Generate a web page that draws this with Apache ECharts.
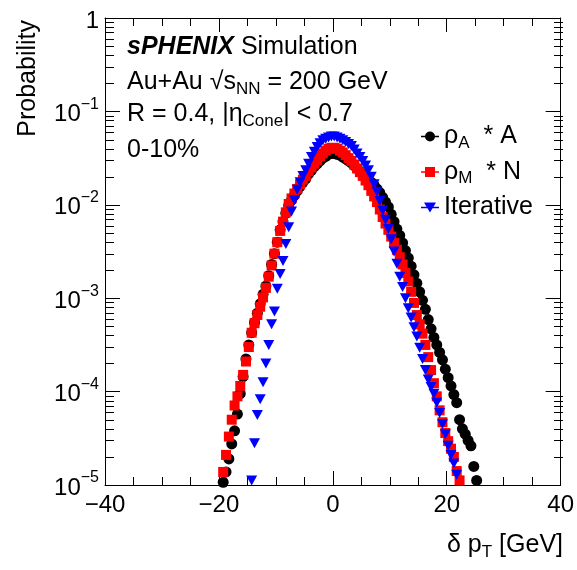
<!DOCTYPE html>
<html>
<head>
<meta charset="utf-8">
<script src="https://cdn.jsdelivr.net/npm/echarts@6/dist/echarts.min.js"></script>
<style>
  html, body { margin: 0; padding: 0; background: #fff; }
  #chart { width: 577px; height: 570px; }
</style>
</head>
<body>
<div id="chart"></div>
<script>
// histogram bins: 0.5 GeV wide, first bin centre of each series
const binWidth = 0.5
const rhoAStart = -19.25
const rhoMStart = -19.25
const iterStart = -14.25

// rho_A * A
const rhoA = [
  1.07e-5, 1.38e-5, 1.9e-5, 2.75e-5, 3.8e-5, 5.75e-5, 9.5e-5, 1.45e-4, 2.24e-4, 3.16e-4,
  4.27e-4, 5.5e-4, 6.9e-4, 8.7e-4, 1.1e-3, 1.35e-3, 1.74e-3, 2.3e-3, 3.0e-3, 3.98e-3,
  5.4e-3, 6.6e-3, 8.1e-3, 9.8e-3, 1.12e-2, 1.26e-2, 1.41e-2, 1.58e-2, 1.74e-2, 1.9e-2,
  2.14e-2, 2.34e-2, 2.57e-2, 2.75e-2, 2.95e-2, 3.16e-2, 3.3e-2, 3.47e-2, 3.55e-2, 3.55e-2,
  3.47e-2, 3.4e-2, 3.24e-2, 3.1e-2, 2.95e-2, 2.82e-2, 2.63e-2, 2.45e-2, 2.29e-2, 2.14e-2,
  2.0e-2, 1.86e-2, 1.74e-2, 1.62e-2, 1.48e-2, 1.35e-2, 1.2e-2, 1.07e-2, 9.5e-3, 7.9e-3,
  6.6e-3, 5.5e-3, 4.7e-3, 3.9e-3, 3.24e-3, 2.7e-3, 2.2e-3, 1.78e-3, 1.45e-3, 1.17e-3,
  9.5e-4, 7.6e-4, 5.9e-4, 4.7e-4, 3.8e-4, 3.16e-4, 2.63e-4, 2.19e-4, 1.74e-4, 1.41e-4,
  1.15e-4, 9.3e-5, 7.6e-5, 5.0e-5, 4.0e-5, 3.5e-5, 3.0e-5, 2.63e-5, 1.58e-5, 1.12e-5
]

// rho_M * N
const rhoM = [
  1.38e-5, 2.1e-5, 3.3e-5, 5.0e-5, 7.1e-5, 8.9e-5, 1.15e-4, 1.51e-4, 2.1e-4, 3.0e-4,
  4.27e-4, 5.4e-4, 6.6e-4, 8.1e-4, 1.02e-3, 1.29e-3, 1.7e-3, 2.24e-3, 3.0e-3, 3.98e-3,
  5.25e-3, 6.6e-3, 8.3e-3, 1.02e-2, 1.17e-2, 1.32e-2, 1.48e-2, 1.66e-2, 1.86e-2, 2.04e-2,
  2.29e-2, 2.51e-2, 2.75e-2, 3.0e-2, 3.3e-2, 3.55e-2, 3.8e-2, 3.98e-2, 4.07e-2, 4.07e-2,
  3.98e-2, 3.8e-2, 3.63e-2, 3.4e-2, 3.16e-2, 2.95e-2, 2.7e-2, 2.45e-2, 2.24e-2, 2.04e-2,
  1.82e-2, 1.62e-2, 1.41e-2, 1.23e-2, 1.07e-2, 8.9e-3, 7.4e-3, 6.3e-3, 5.4e-3, 4.57e-3,
  3.9e-3, 3.3e-3, 2.75e-3, 2.3e-3, 1.86e-3, 1.51e-3, 1.17e-3, 8.9e-4, 6.6e-4, 5.25e-4,
  4.17e-4, 3.16e-4, 2.34e-4, 1.7e-4, 1.23e-4, 8.9e-5, 6.3e-5, 4.7e-5, 3.6e-5, 2.95e-5,
  2.45e-5, 2.0e-5, 1.41e-5, 1.12e-5
]

// Iterative
const iterative = [
  1.12e-5, 2.8e-5, 5.6e-5, 8.3e-5, 1.26e-4, 2.0e-4, 3.16e-4, 5.25e-4, 7.2e-4, 1.26e-3,
  1.82e-3, 2.5e-3, 3.8e-3, 5.75e-3, 8.5e-3, 1.12e-2, 1.45e-2, 1.74e-2, 2.04e-2, 2.34e-2,
  2.75e-2, 3.24e-2, 3.7e-2, 4.17e-2, 4.57e-2, 4.9e-2, 5.1e-2, 5.25e-2, 5.4e-2, 5.4e-2,
  5.25e-2, 5.1e-2, 4.9e-2, 4.7e-2, 4.47e-2, 4.27e-2, 3.9e-2, 3.55e-2, 3.24e-2, 2.95e-2,
  2.63e-2, 2.34e-2, 2.0e-2, 1.66e-2, 1.38e-2, 1.1e-2, 8.7e-3, 6.9e-3, 5.5e-3, 4.27e-3,
  3.16e-3, 2.34e-3, 1.7e-3, 1.32e-3, 1.0e-3, 7.8e-4, 6.2e-4, 4.9e-4, 3.9e-4, 2.95e-4,
  2.24e-4, 1.7e-4, 1.35e-4, 1.12e-4, 9.5e-5, 7.6e-5, 5.9e-5, 4.47e-5, 3.5e-5, 2.63e-5,
  2.1e-5, 1.7e-5, 1.29e-5
]

const xMin = -40
const xMax = 40
const yMin = 1e-5
const yMax = 1

const FONT = 'Liberation Sans'

// plot frame
const gridLeft = 105
const gridRight = 14
const gridTop = 18
const gridBottom = 85
const W = 577
const H = 570

function toPoints(start, values) {
  return values.map((v, i) => [start + i * binWidth, v])
}

// minor ticks of the log axis: 2..9 in every decade
const minorMultipliers = [2, 3, 4, 5, 6, 7, 8, 9]
const decadeExponents = [-5, -4, -3, -2, -1]

const richText = {
  n: { fontFamily: FONT, fontSize: 25, color: '#000', lineHeight: 30 },
  bi: { fontFamily: FONT, fontSize: 25, color: '#000', fontWeight: 'bold', fontStyle: 'italic', lineHeight: 30 },
  sub: { fontFamily: FONT, fontSize: 17, color: '#000', verticalAlign: 'bottom', lineHeight: 12 }
}

// log-axis minor tick marks on both sides of the frame (thin filled rects)
const plotH = H - gridTop - gridBottom
const decades = Math.log10(yMax) - Math.log10(yMin)
const tickRects = []
decadeExponents.forEach(e => {
  minorMultipliers.forEach(m => {
    const frac = (Math.log10(yMax) - (e + Math.log10(m))) / decades
    const y = Math.round(gridTop + frac * plotH)
    tickRects.push(
      { type: 'rect', silent: true, z: 100, shape: { x: gridLeft, y: y, width: 9, height: 1 }, style: { fill: '#000' } },
      { type: 'rect', silent: true, z: 100, shape: { x: W - gridRight - 9, y: y, width: 9, height: 1 }, style: { fill: '#000' } }
    )
  })
})

const chart = echarts.init(document.getElementById('chart'), null, { renderer: 'canvas' })

const axisBase = {
  axisLine: { show: true, onZero: false, lineStyle: { color: '#000', width: 1 } },
  splitLine: { show: false }
}

chart.setOption({
  animation: false,
  backgroundColor: '#fff',
  grid: { left: gridLeft, right: gridRight, top: gridTop, bottom: gridBottom },
  xAxis: [
    {
      ...axisBase,
      type: 'value', min: xMin, max: xMax, interval: 20,
      axisTick: { show: true, inside: true, length: 14, lineStyle: { color: '#000' } },
      minorTick: { show: true, splitNumber: 4, length: 8, lineStyle: { color: '#000' } },
      axisLabel: {
        margin: 8, color: '#000', fontFamily: FONT, fontSize: 24,
        formatter: v => (v < 0 ? '\u2212' + Math.abs(v) : String(v))
      }
    },
    {
      ...axisBase,
      type: 'value', position: 'top', min: xMin, max: xMax, interval: 20,
      axisTick: { show: true, inside: true, length: 14, lineStyle: { color: '#000' } },
      minorTick: { show: true, splitNumber: 4, length: 8, lineStyle: { color: '#000' } },
      axisLabel: { show: false }
    }
  ],
  yAxis: [
    {
      ...axisBase,
      type: 'log', logBase: 10, min: yMin, max: yMax,
      axisTick: { show: true, inside: true, length: 15, lineStyle: { color: '#000' } },
      axisLabel: {
        margin: 6, color: '#000',
        showMaxLabel: true, showMinLabel: true,
        formatter: v => {
          const e = Math.round(Math.log10(v))
          return e === 0 ? '{b|1}' : '{b|10}{s|\u2212' + (-e) + '}'
        },
        rich: {
          b: { fontFamily: FONT, fontSize: 24, color: '#000', lineHeight: 30, verticalAlign: 'bottom' },
          s: { fontFamily: FONT, fontSize: 16, color: '#000', lineHeight: 30, verticalAlign: 'top' }
        }
      }
    },
    {
      ...axisBase,
      type: 'log', logBase: 10, min: yMin, max: yMax, position: 'right',
      axisTick: { show: true, inside: true, length: 15, lineStyle: { color: '#000' } },
      axisLabel: { show: false }
    }
  ],
  legend: {
    orient: 'vertical',
    left: 416, top: 119,
    itemWidth: 18, itemHeight: 10, itemGap: 8,
    data: [
      { name: 'rhoA', icon: 'path://M0,4.3L18,4.3L18,5.7L0,5.7Z M9,0A5,5 0 1 1 8.99,0Z' },
      { name: 'rhoM', icon: 'path://M0,4.3L18,4.3L18,5.7L0,5.7Z M4,0L14,0L14,10L4,10Z' },
      { name: 'iter', icon: 'path://M0,4.3L18,4.3L18,5.7L0,5.7Z M3,0L15,0L9,10Z' }
    ],
    formatter: name => {
      if (name === 'rhoA') return '{n|\u03c1}{sub|A}{n|  * A}'
      if (name === 'rhoM') return '{n|\u03c1}{sub|M}{n|  * N}'
      return '{n|Iterative}'
    },
    textStyle: { rich: richText }
  },
  graphic: [
    {
      type: 'text', left: 127, top: 35,
      style: { text: '{bi|sPHENIX}{n| Simulation}', rich: richText }
    },
    {
      type: 'text', left: 127, top: 70,
      style: { text: '{n|Au+Au \u221as}{sub|NN}{n| = 200 GeV}', rich: richText }
    },
    {
      type: 'text', left: 127, top: 102,
      style: { text: '{n|R = 0.4, |\u03b7}{sub|Cone}{n|| < 0.7}', rich: richText }
    },
    {
      type: 'text', left: 127, top: 138,
      style: { text: '{n|0-10%}', rich: richText }
    },
    {
      type: 'text', x: 28, y: 20, rotation: Math.PI / 2,
      style: { text: 'Probability', fontFamily: FONT, fontSize: 25, fill: '#000', align: 'right', verticalAlign: 'middle' }
    },
    {
      type: 'text', right: 14, top: 533,
      style: { text: '{n|\u03b4 p}{sub|T}{n| [GeV]}', rich: richText }
    },
    {
      type: 'group', silent: true, children: tickRects
    }
  ],
  series: [
    {
      name: 'rhoA', type: 'scatter', z: 2,
      symbol: 'circle', symbolSize: 11,
      itemStyle: { color: '#000', opacity: 1 },
      data: toPoints(rhoAStart, rhoA)
    },
    {
      name: 'rhoM', type: 'scatter', z: 3,
      symbol: 'rect', symbolSize: 10,
      itemStyle: { color: '#ff0000', opacity: 1 },
      data: toPoints(rhoMStart, rhoM)
    },
    {
      name: 'iter', type: 'scatter', z: 4,
      symbol: 'triangle', symbolRotate: 180, symbolSize: [11, 10],
      itemStyle: { color: '#0000ff', opacity: 1 },
      data: toPoints(iterStart, iterative)
    }
  ]
})
</script>
</body>
</html>
